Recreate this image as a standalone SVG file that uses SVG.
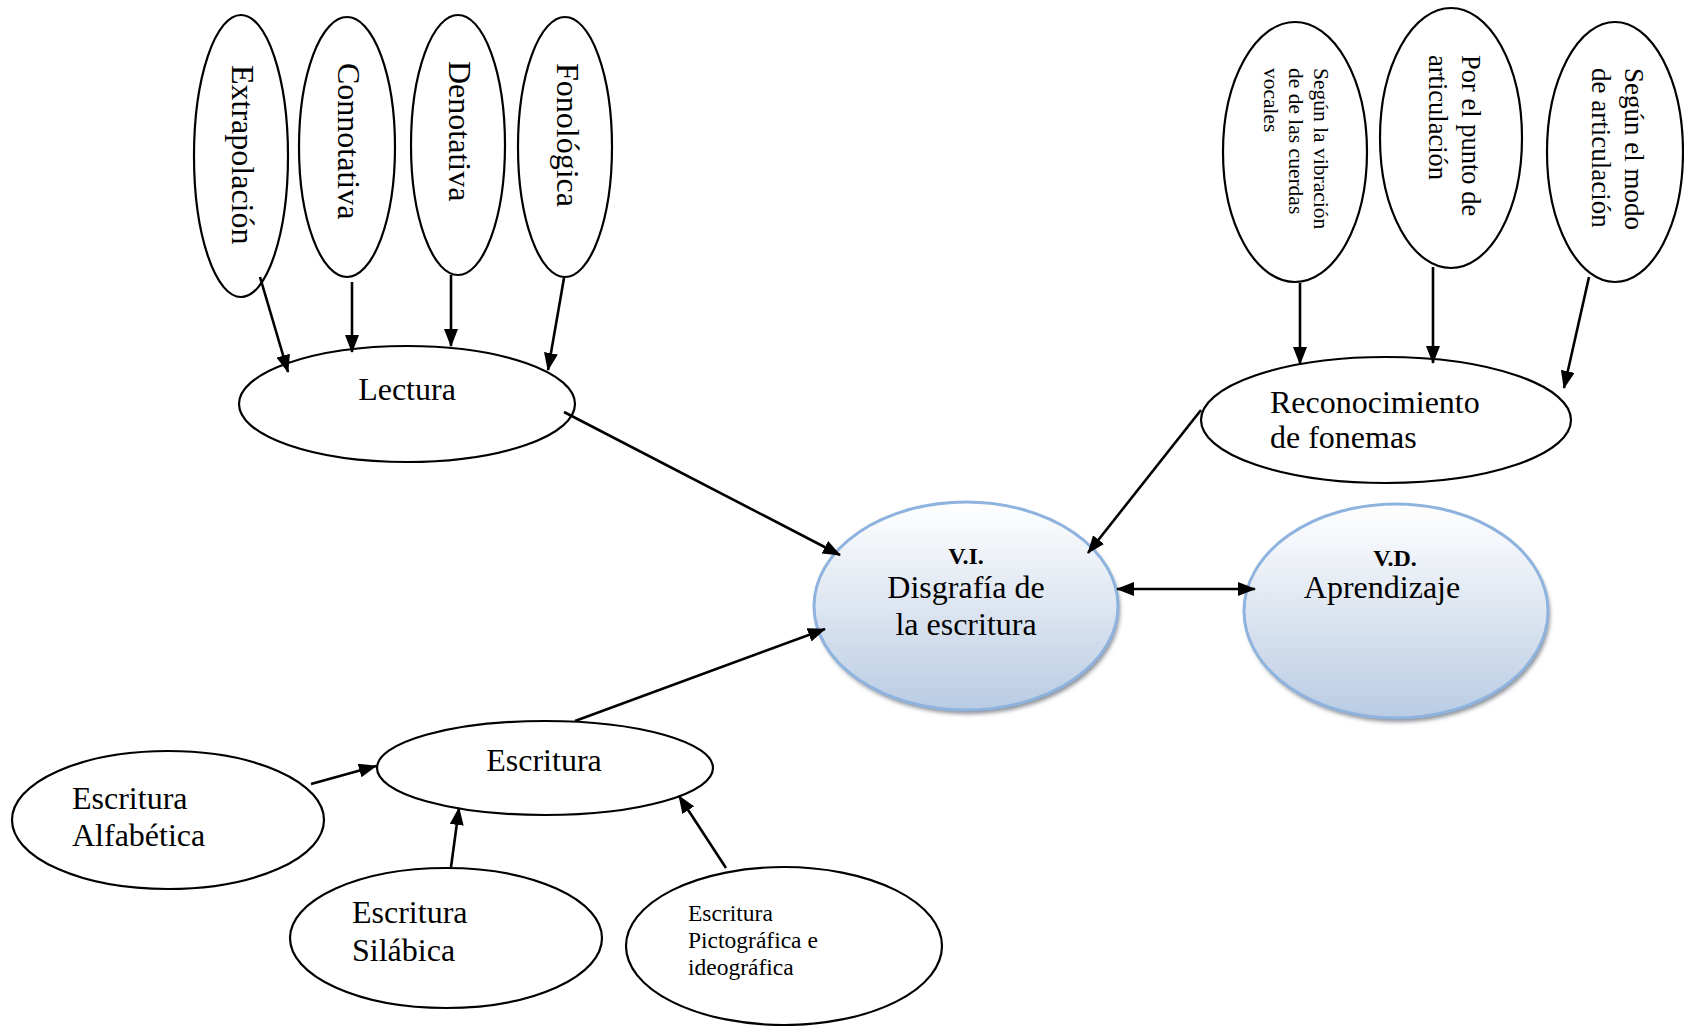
<svg xmlns="http://www.w3.org/2000/svg" width="1684" height="1026" viewBox="0 0 1684 1026">
<style>
.n{fill:#fff;stroke:#000;stroke-width:2.2}
.t{font-family:"Liberation Serif","Times New Roman",serif;fill:#000}
.b{font-weight:bold}
.c{stroke:#000;stroke-width:2.6;fill:none;marker-end:url(#ah)}
.v{fill:url(#g);stroke:#8eb3de;stroke-width:3}
.s{fill:#8a8f96;filter:url(#bl)}
</style>
<defs>
<marker id="ah" viewBox="0 0 18 14" refX="17" refY="7" markerWidth="18" markerHeight="14" markerUnits="userSpaceOnUse" orient="auto-start-reverse">
<path d="M0,0 L18,7 L0,14 z" fill="#000"/>
</marker>
<linearGradient id="g" x1="0" y1="0" x2="0" y2="1">
<stop offset="0" stop-color="#ffffff"/>
<stop offset="0.45" stop-color="#e1e8f2"/>
<stop offset="1" stop-color="#b9cce4"/>
</linearGradient>
<filter id="bl" x="-10%" y="-10%" width="120%" height="120%"><feGaussianBlur stdDeviation="2"/></filter>
</defs>
<rect width="1684" height="1026" fill="#fff"/>

<g id="extrapolacion">
<ellipse class="n" cx="241" cy="156" rx="47" ry="141"/>
<text class="t" font-size="32" transform="translate(232,65) rotate(90)">Extrapolación</text>
</g>
<g id="connotativa">
<ellipse class="n" cx="347" cy="147" rx="48" ry="130"/>
<text class="t" font-size="32" transform="translate(338,63) rotate(90)">Connotativa</text>
</g>
<g id="denotativa">
<ellipse class="n" cx="458" cy="145" rx="47" ry="130"/>
<text class="t" font-size="32" transform="translate(449,61) rotate(90)">Denotativa</text>
</g>
<g id="fonologica">
<ellipse class="n" cx="565" cy="147" rx="47" ry="130"/>
<text class="t" font-size="32" transform="translate(557,63) rotate(90)">Fonológica</text>
</g>
<g id="lectura">
<ellipse class="n" cx="407" cy="404" rx="168" ry="58"/>
<text class="t" font-size="32" x="407" y="400" text-anchor="middle">Lectura</text>
</g>

<g id="vibracion">
<ellipse class="n" cx="1295" cy="152" rx="72" ry="130"/>
<text class="t" font-size="21.5" transform="translate(1314,68) rotate(90)">Según la vibración</text>
<text class="t" font-size="21.5" transform="translate(1289,68) rotate(90)">de de las cuerdas</text>
<text class="t" font-size="21.5" transform="translate(1264,68) rotate(90)">vocales</text>
</g>
<g id="punto">
<ellipse class="n" cx="1451" cy="138" rx="71" ry="130"/>
<text class="t" font-size="26.5" transform="translate(1462,55) rotate(90)">Por el punto de</text>
<text class="t" font-size="26.5" transform="translate(1429,55) rotate(90)">articulación</text>
</g>
<g id="modo">
<ellipse class="n" cx="1615" cy="152" rx="68" ry="130"/>
<text class="t" font-size="27" transform="translate(1625,68) rotate(90)">Según el modo</text>
<text class="t" font-size="27" transform="translate(1592,68) rotate(90)">de articulación</text>
</g>
<g id="reconocimiento">
<ellipse class="n" cx="1386" cy="420" rx="185" ry="63"/>
<text class="t" font-size="32" x="1270" y="413">Reconocimiento</text>
<text class="t" font-size="32" x="1270" y="448">de fonemas</text>
</g>

<g id="vi">
<ellipse class="s" cx="968" cy="610" rx="152" ry="104"/>
<ellipse class="v" cx="966" cy="606" rx="152" ry="104"/>
<text class="t b" font-size="24" x="966" y="564" text-anchor="middle">V.I.</text>
<text class="t" font-size="32" x="966" y="598" text-anchor="middle">Disgrafía de</text>
<text class="t" font-size="32" x="966" y="635" text-anchor="middle">la escritura</text>
</g>
<g id="vd">
<ellipse class="s" cx="1398" cy="615" rx="152" ry="107"/>
<ellipse class="v" cx="1396" cy="611" rx="152" ry="107"/>
<text class="t b" font-size="24" x="1395" y="566" text-anchor="middle">V.D.</text>
<text class="t" font-size="32" x="1382" y="598" text-anchor="middle">Aprendizaje</text>
</g>

<g id="escritura">
<ellipse class="n" cx="545" cy="768" rx="168" ry="47"/>
<text class="t" font-size="32" x="544" y="771" text-anchor="middle">Escritura</text>
</g>
<g id="alfabetica">
<ellipse class="n" cx="168" cy="820" rx="156" ry="69"/>
<text class="t" font-size="32" x="72" y="809">Escritura</text>
<text class="t" font-size="32" x="72" y="846">Alfabética</text>
</g>
<g id="silabica">
<ellipse class="n" cx="446" cy="938" rx="156" ry="70"/>
<text class="t" font-size="32" x="352" y="923">Escritura</text>
<text class="t" font-size="32" x="352" y="961">Silábica</text>
</g>
<g id="pictografica">
<ellipse class="n" cx="784" cy="946" rx="158" ry="79"/>
<text class="t" font-size="23.5" x="688" y="921">Escritura</text>
<text class="t" font-size="23.5" x="688" y="948">Pictográfica e</text>
<text class="t" font-size="23.5" x="688" y="975">ideográfica</text>
</g>

<g id="connectors">
<line class="c" x1="260" y1="277" x2="288" y2="372"/>
<line class="c" x1="352" y1="282" x2="352" y2="352"/>
<line class="c" x1="451" y1="275" x2="451" y2="346"/>
<line class="c" x1="564" y1="278" x2="548" y2="370"/>
<line class="c" x1="564" y1="412" x2="840" y2="555"/>
<line class="c" x1="1300" y1="283" x2="1300" y2="364"/>
<line class="c" x1="1433" y1="267" x2="1433" y2="363"/>
<line class="c" x1="1589" y1="277" x2="1564" y2="388"/>
<line class="c" x1="1201" y1="410" x2="1088" y2="553"/>
<line class="c" x1="1117" y1="589" x2="1255" y2="589" stroke-width="3.5" marker-start="url(#ah)"/>
<line class="c" x1="575" y1="721" x2="825" y2="629"/>
<line class="c" x1="311" y1="784" x2="376" y2="766"/>
<line class="c" x1="451" y1="867" x2="459" y2="808"/>
<line class="c" x1="726" y1="868" x2="679" y2="796"/>
</g>
</svg>
